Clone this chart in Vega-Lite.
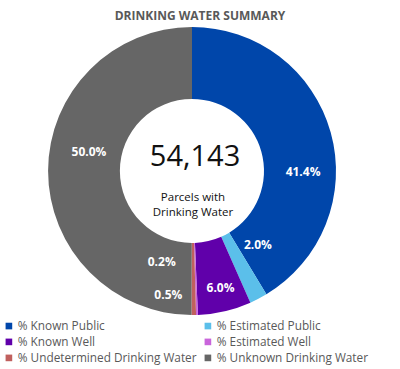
{
  "$schema": "https://vega.github.io/schema/vega-lite/v6.json",
  "width": 384,
  "height": 288,
  "autosize": {"type": "none"},
  "padding": {"left": 0, "right": 16, "top": 27, "bottom": 54},
  "background": "white",
  "config": {"view": {"stroke": null}, "font": "Open Sans"},
  "title": {"text": "DRINKING WATER SUMMARY", "font": "Open Sans", "fontSize": 12, "fontWeight": "bold", "color": "#595959", "dx": 8, "offset": 4},
  "datasets": {
    "shares": [
      {"i": 1, "cat": "% Known Public", "v": 41.4, "label": "41.4%"},
      {"i": 2, "cat": "% Estimated Public", "v": 2.0, "label": "2.0%"},
      {"i": 3, "cat": "% Known Well", "v": 6.0, "label": "6.0%"},
      {"i": 4, "cat": "% Estimated Well", "v": 0.2, "label": "0.2%"},
      {"i": 5, "cat": "% Undetermined Drinking Water", "v": 0.5, "label": "0.5%"},
      {"i": 6, "cat": "% Unknown Drinking Water", "v": 50.0, "label": "50.0%"}
    ],
    "center": [
      {"total": "54,143", "caption": ["Parcels with", "Drinking Water"]}
    ]
  },
  "data": {"name": "shares"},
  "layer": [
    {
      "mark": {"type": "arc", "outerRadius": 144, "innerRadius": 72},
      "encoding": {
        "theta": {"field": "v", "type": "quantitative", "stack": true},
        "order": {"field": "i", "type": "quantitative"},
        "color": {
          "field": "cat", "type": "nominal",
          "scale": {
            "domain": ["% Known Public", "% Estimated Public", "% Known Well", "% Estimated Well", "% Undetermined Drinking Water", "% Unknown Drinking Water"],
            "range": ["#0046AA", "#5BBFEA", "#6000AA", "#C965DB", "#C0605E", "#666666"]
          },
          "legend": {
            "orient": "none", "legendX": 3, "legendY": 293, "padding": 0, "columns": 2, "direction": "horizontal", "columnPadding": 5,
            "symbolType": "square", "symbolSize": 44, "symbolStrokeWidth": 0,
            "labelFontSize": 11.8, "labelFont": "Open Sans", "labelColor": "#595959",
            "labelLimit": 300, "rowPadding": 3, "labelOffset": 3, "title": null
          }
        }
      }
    },
    {
      "mark": {"type": "text", "radius": 108, "dx": 7, "dy": 30, "fontSize": 12, "fontWeight": "bold", "color": "white", "font": "Open Sans"},
      "encoding": {
        "theta": {"field": "v", "type": "quantitative", "stack": true},
        "order": {"field": "i", "type": "quantitative"},
        "detail": {"field": "cat"},
        "text": {"condition": {"test": "datum.i == 1", "field": "label"}, "value": ""}
      }
    },
    {
      "mark": {"type": "text", "radius": 108, "dx": 16, "dy": -22, "fontSize": 12, "fontWeight": "bold", "color": "white", "font": "Open Sans"},
      "encoding": {
        "theta": {"field": "v", "type": "quantitative", "stack": true},
        "order": {"field": "i", "type": "quantitative"},
        "detail": {"field": "cat"},
        "text": {"condition": {"test": "datum.i == 2", "field": "label"}, "value": ""}
      }
    },
    {
      "mark": {"type": "text", "radius": 108, "dx": 4, "dy": 12, "fontSize": 12, "fontWeight": "bold", "color": "white", "font": "Open Sans"},
      "encoding": {
        "theta": {"field": "v", "type": "quantitative", "stack": true},
        "order": {"field": "i", "type": "quantitative"},
        "detail": {"field": "cat"},
        "text": {"condition": {"test": "datum.i == 3", "field": "label"}, "value": ""}
      }
    },
    {
      "mark": {"type": "text", "radius": 108, "dx": -34, "dy": -17, "fontSize": 12, "fontWeight": "bold", "color": "white", "font": "Open Sans"},
      "encoding": {
        "theta": {"field": "v", "type": "quantitative", "stack": true},
        "order": {"field": "i", "type": "quantitative"},
        "detail": {"field": "cat"},
        "text": {"condition": {"test": "datum.i == 4", "field": "label"}, "value": ""}
      }
    },
    {
      "mark": {"type": "text", "radius": 108, "dx": -25, "dy": 16, "fontSize": 12, "fontWeight": "bold", "color": "white", "font": "Open Sans"},
      "encoding": {
        "theta": {"field": "v", "type": "quantitative", "stack": true},
        "order": {"field": "i", "type": "quantitative"},
        "detail": {"field": "cat"},
        "text": {"condition": {"test": "datum.i == 5", "field": "label"}, "value": ""}
      }
    },
    {
      "mark": {"type": "text", "radius": 108, "dx": 5, "dy": -19, "fontSize": 12, "fontWeight": "bold", "color": "white", "font": "Open Sans"},
      "encoding": {
        "theta": {"field": "v", "type": "quantitative", "stack": true},
        "order": {"field": "i", "type": "quantitative"},
        "detail": {"field": "cat"},
        "text": {"condition": {"test": "datum.i == 6", "field": "label"}, "value": ""}
      }
    },
    {
      "data": {"name": "center"},
      "mark": {"type": "text", "fontSize": 29, "color": "#111111", "font": "Open Sans", "baseline": "middle", "dy": -14, "dx": 3},
      "encoding": {"text": {"field": "total"}}
    },
    {
      "data": {"name": "center"},
      "mark": {"type": "text", "fontSize": 11.5, "color": "#111111", "font": "Open Sans", "baseline": "middle", "dy": 27, "dx": 1, "lineHeight": 14.5},
      "encoding": {"text": {"field": "caption"}}
    }
  ]
}
